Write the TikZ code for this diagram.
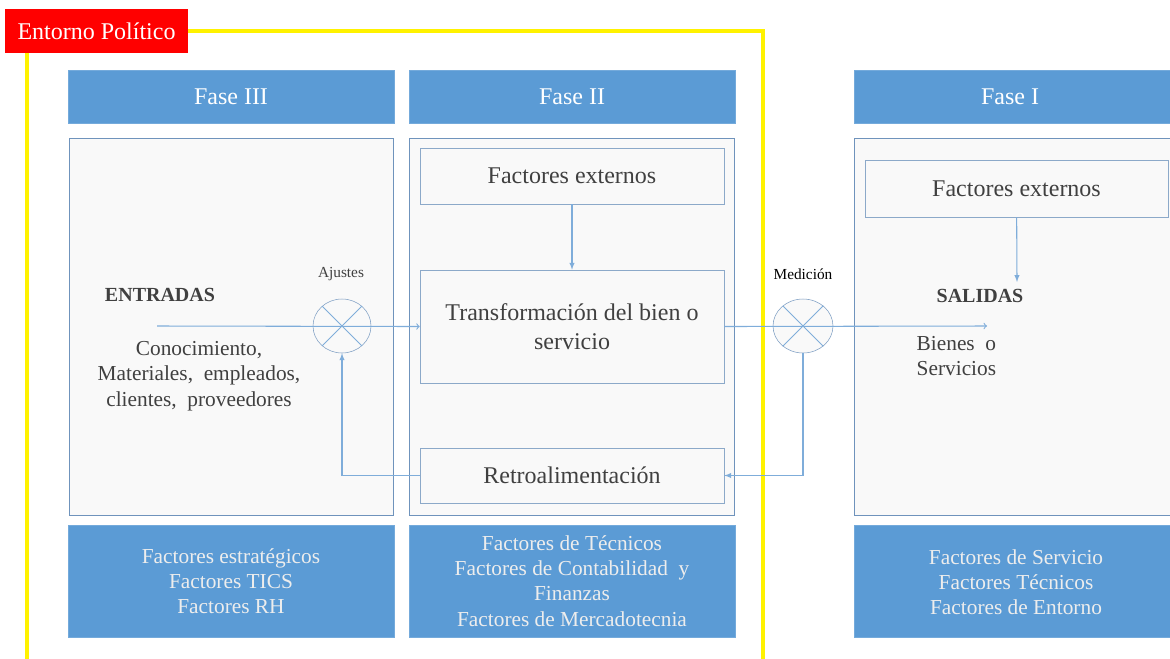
\documentclass[tikz,border=0pt]{standalone}
\usepackage{fontspec}
\setmainfont{LiberationSerif}[Extension=.ttf, UprightFont=*-Regular, BoldFont=*-Bold, ItalicFont=*-Italic, BoldItalicFont=*-BoldItalic]
\usetikzlibrary{shapes.geometric}
\definecolor{azul}{HTML}{5B9BD5}
\definecolor{borde}{HTML}{6F93BC}
\definecolor{fondo}{HTML}{F9F9F9}
\definecolor{linea}{HTML}{7FADDA}
\definecolor{texto}{HTML}{404040}

\begin{document}
\begin{tikzpicture}[x=0.75pt,y=-0.75pt]
\tikzstyle{encabezado}=[fill=azul, draw=azul!85!white, minimum height=39.75pt, inner sep=0pt, text=white, font=\fontsize{18}{22}\selectfont]
\tikzstyle{caja}=[fill=fondo, draw=borde, minimum height=282.75pt, inner sep=0pt]
\tikzstyle{pie}=[fill=azul, draw=azul!85!white, minimum height=84pt, inner sep=0pt, text=white!93!black, align=center, font=\fontsize{16}{18.9}\selectfont]
\tikzstyle{interna}=[fill=fondo, draw=borde!80!white, minimum width=228pt, inner sep=0pt, text=texto, align=center, font=\fontsize{18}{21.75}\selectfont]
\tikzstyle{sumador}=[ellipse, draw=borde!90!white, fill=fondo, minimum height=40.5pt, inner sep=0pt]
\tikzstyle{cruz}=[draw=linea, line width=0.6pt]
\tikzstyle{flecha}=[draw=linea, line width=0.8pt, ->]
\tikzstyle{flechar}=[draw=linea, line width=0.8pt, -latex]
\tikzstyle{etiqueta}=[text=texto, font=\fontsize{11.5}{13}\selectfont]
\clip (0,0) rectangle (1170,658);
\fill[white] (0,0) rectangle (1170,658);

% entorno
\draw[yellow, line width=3pt] (27,31) rectangle (763,720);
\node[fill=red, minimum width=137.25pt, minimum height=33pt, inner sep=0pt, text=white, font=\fontsize{18}{22}\selectfont] (entorno) at (96.5,31) {Entorno Político};

% fases
\node[encabezado, minimum width=244.5pt] (fase3) at (231,96.5) {Fase III};
\node[encabezado, minimum width=244.5pt] (fase2) at (572,96.5) {Fase II};
\node[encabezado, minimum width=240.75pt] (fase1) at (1014.5,96.5) {};
\node[text=white, font=\fontsize{18}{22}\selectfont] (tfase1) at (1010,96.5) {Fase I};

\node[caja, minimum width=243pt] (caja3) at (231,326.5) {};
\node[caja, minimum width=243.75pt] (caja2) at (571.5,326.5) {};
\node[caja, minimum width=240.75pt] (caja1) at (1014.5,326.5) {};

\node[pie, minimum width=244.5pt] (pie3) at (231,581) {Factores estratégicos\\Factores TICS\\Factores RH};
\node[pie, minimum width=244.5pt] (pie2) at (572,581) {Factores de Técnicos\\Factores de Contabilidad~~y\\Finanzas\\Factores de Mercadotecnia};
\node[pie, minimum width=240.75pt] (pie1) at (1014.5,581) {};
\node[text=white!93!black, align=center, font=\fontsize{16}{18.9}\selectfont] (tpie1) at (1016,582) {Factores de Servicio\\Factores Técnicos\\Factores de Entorno};

% fase II
\node[interna, minimum height=42pt] (ext2) at (572,176) {Factores externos};
\node[interna, minimum height=84.75pt] (trans) at (572,326.5) {Transformación del bien o\\servicio};
\node[interna, minimum height=41.25pt] (retro) at (572,475.5) {Retroalimentación};

% fase I
\node[interna, minimum width=227.25pt, minimum height=42.75pt] (ext1) at (1016.5,188.5) {Factores externos};
\node[text=texto, font=\bfseries\fontsize{15}{18}\selectfont] (salidas) at (980,296) {SALIDAS};
\node[text=texto, align=left, anchor=west, font=\fontsize{16}{18.9}\selectfont] (bienes) at (912,356) {Bienes~~o\\Servicios};
\coordinate (llegada) at (1017,282);
\coordinate (fin) at (987,326);

% fase III
\node[text=texto, font=\bfseries\fontsize{15}{18}\selectfont] (entradas) at (160,295) {ENTRADAS};
\node[text=texto, align=center, font=\fontsize{16}{18.9}\selectfont] (insumos) at (199,376) {Conocimiento,\\Materiales,~~empleados,\\clientes,~~proveedores};
\coordinate (inicio) at (157,326);

% sumadores
\node[sumador, minimum width=43.5pt] (ajustes) at (342,326) {};
\node[etiqueta] (lajustes) at (341,274) {Ajustes};
\node[sumador, minimum width=45pt] (medicion) at (803,326) {};
\node[etiqueta, text=black] (lmedicion) at (803,274) {Medición};
\draw[cruz] (ajustes.45) -- (ajustes.225) (ajustes.135) -- (ajustes.315);
\draw[cruz] (medicion.45) -- (medicion.225) (medicion.135) -- (medicion.315);

% flechas
\draw[flecha] (inicio) -- (trans.west);
\draw[flecha] (trans.east) -- (fin);
\draw[flechar] (ext2) -- (trans);
\draw[flechar] (ext1) -- (llegada);
\draw[flechar] (medicion.south) |- (retro.east);
\draw[flechar] (retro.west) -| (ajustes.south);
\end{tikzpicture}
\end{document}
